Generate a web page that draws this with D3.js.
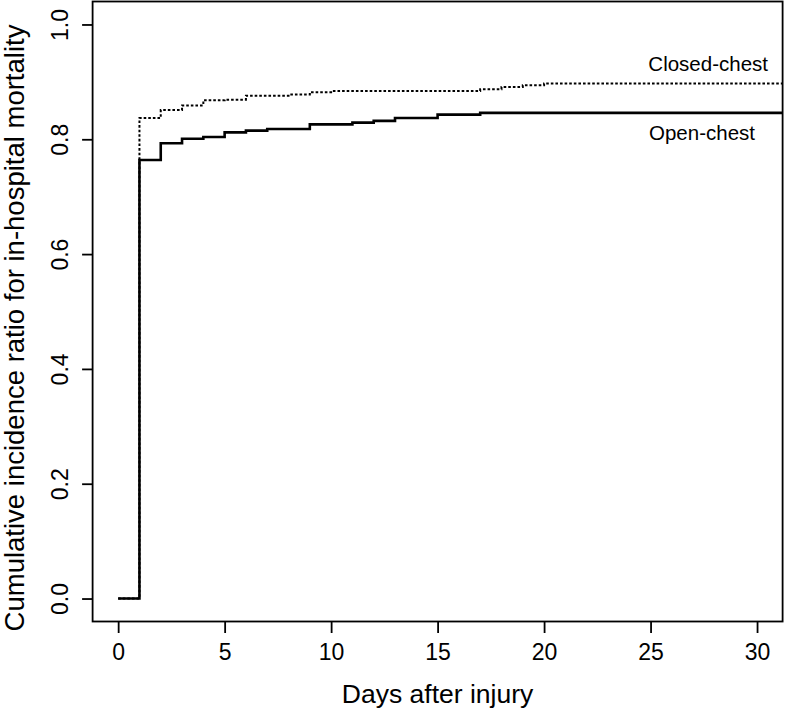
<!DOCTYPE html>
<html>
<head>
<meta charset="utf-8">
<script src="https://cdn.jsdelivr.net/npm/d3@7"></script>
<style>
  body { margin: 0; background: #fff; }
  text { font-family: "Liberation Sans", Arial, Helvetica, sans-serif; fill: #000; }
</style>
</head>
<body>
<div class="content"></div>
<script>
//--> Data
const openDays = [0, 1, 2, 3, 4, 5, 6, 7, 9, 11, 12, 13, 15, 17, 32];
const openCIR = [0, 0.764, 0.793, 0.801, 0.804, 0.812, 0.815, 0.818, 0.826, 0.829, 0.832, 0.837, 0.843, 0.846, 0.846];
const closedDays = [0, 1, 2, 3, 4, 5, 6, 8, 9, 10, 17, 18, 19, 20, 32];
const closedCIR = [0, 0.837, 0.851, 0.859, 0.868, 0.869, 0.876, 0.878, 0.882, 0.884, 0.887, 0.891, 0.894, 0.897, 0.897];
const xTicks = [0, 5, 10, 15, 20, 25, 30];
const yTicks = [0, 0.2, 0.4, 0.6, 0.8, 1.0];
const seriesNames = ["Closed-chest", "Open-chest"];

//--> Constants
const width = 787;
const height = 712;
const plot = { left: 92.6, right: 782.6, top: 1.5, bottom: 621.5 };

const svg = d3
  .select(".content")
  .append("svg")
  .attr("width", width)
  .attr("height", height);

const x = d3.scaleLinear().domain([-1.2, 31.2]).range([plot.left, plot.right]);
const y = d3.scaleLinear().domain([-0.04, 1.04]).range([plot.bottom, plot.top]);

svg.append("clipPath")
  .attr("id", "clip")
  .append("rect")
  .attr("x", plot.left)
  .attr("y", plot.top)
  .attr("width", plot.right - plot.left)
  .attr("height", plot.bottom - plot.top);

//--> Step curves
const line = d3
  .line()
  .x(d => x(d[0]))
  .y(d => y(d[1]))
  .curve(d3.curveStepAfter);

const closedData = closedDays.map((d, i) => [d, closedCIR[i]]);
const openData = openDays.map((d, i) => [d, openCIR[i]]);

const curves = svg.append("g").attr("clip-path", "url(#clip)");

curves.append("path")
  .datum(closedData)
  .attr("d", line)
  .attr("fill", "none")
  .attr("stroke", "#000")
  .attr("stroke-width", 2)
  .attr("stroke-dasharray", "2.6,2");

curves.append("path")
  .datum(openData)
  .attr("d", line)
  .attr("fill", "none")
  .attr("stroke", "#000")
  .attr("stroke-width", 2.6);

//--> Box
svg.append("rect")
  .attr("x", plot.left)
  .attr("y", plot.top)
  .attr("width", plot.right - plot.left)
  .attr("height", plot.bottom - plot.top)
  .attr("fill", "none")
  .attr("stroke", "#000")
  .attr("stroke-width", 1.8);

//--> Axes
const xAxis = svg.append("g")
  .attr("transform", `translate(0, ${plot.bottom})`)
  .call(d3.axisBottom(x).tickValues(xTicks).tickSize(11.5).tickPadding(11));
xAxis.select(".domain").remove();
xAxis.selectAll("line").attr("stroke-width", 1.8);
xAxis.selectAll("text").attr("font-size", "23px").attr("fill", "#000");

const yAxis = svg.append("g")
  .attr("transform", `translate(${plot.left}, 0)`)
  .call(d3.axisLeft(y).tickValues(yTicks).tickFormat(d3.format(".1f")).tickSize(10.5));
yAxis.select(".domain").remove();
yAxis.selectAll("line").attr("stroke-width", 1.8);
yAxis.selectAll("text")
  .attr("font-size", "23px")
  .attr("fill", "#000")
  .attr("text-anchor", "middle")
  .attr("dy", null)
  .attr("x", null)
  .attr("transform", "translate(-24.5, 0) rotate(-90)");

//--> Axis titles
svg.append("text")
  .attr("x", x(15))
  .attr("y", 703)
  .attr("text-anchor", "middle")
  .attr("font-size", "26.5px")
  .text("Days after injury");

svg.append("text")
  .attr("transform", `translate(24, 328) rotate(-90)`)
  .attr("text-anchor", "middle")
  .attr("font-size", "27.5px")
  .text("Cumulative incidence ratio for in-hospital mortality");

//--> Curve labels
svg.append("text")
  .attr("x", 768)
  .attr("y", 70.7)
  .attr("text-anchor", "end")
  .attr("font-size", "20.5px")
  .text(seriesNames[0]);

svg.append("text")
  .attr("x", 755)
  .attr("y", 140)
  .attr("text-anchor", "end")
  .attr("font-size", "20.5px")
  .text(seriesNames[1]);
</script>
</body>
</html>
